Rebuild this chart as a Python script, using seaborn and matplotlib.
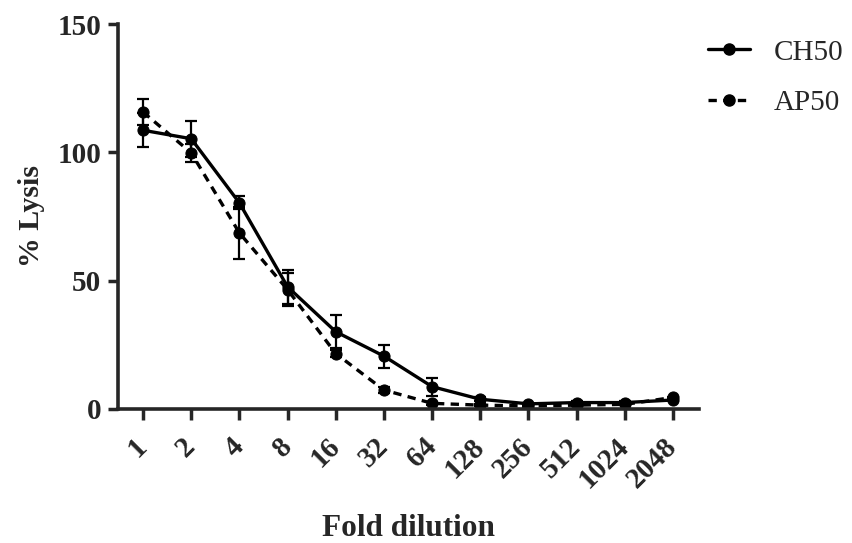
import numpy as np
import pandas as pd
import seaborn as sns
import matplotlib
matplotlib.use("Agg")
import matplotlib.pyplot as plt
from matplotlib.lines import Line2D

dilutions = ["1", "2", "4", "8", "16", "32", "64", "128", "256", "512", "1024", "2048"]
ch50 = [108.6, 105.3, 80.3, 47.6, 30.1, 20.6, 8.7, 3.8, 2.0, 2.5, 2.5, 3.5]
ch50_sd = [6.6, 7.0, 2.5, 6.7, 6.5, 4.5, 3.5, 0.8, 0.5, 0.5, 0.5, 0.5]
ap50 = [115.7, 99.8, 68.6, 46.5, 21.6, 7.4, 2.2, 1.5, 1.2, 1.5, 1.8, 4.5]
ap50_sd = [5.0, 3.6, 10.0, 6.5, 1.5, 1.0, 0.5, 0.3, 0.3, 0.3, 0.3, 0.3]

sns.set_style("ticks")
plt.rcParams['font.family'] = ['Liberation Serif', 'DejaVu Serif']

pos = np.arange(len(dilutions))
df = pd.DataFrame({
    'pos': np.concatenate([pos, pos]),
    'lysis': ch50 + ap50,
    'assay': ['CH50'] * len(pos) + ['AP50'] * len(pos),
})

dash = (2.5, 1.9)
fig = plt.figure(figsize=(8.53, 5.43), dpi=100)
ax = fig.add_axes([0.1383, 0.2468, 0.6812, 0.709])

sns.lineplot(data=df, x='pos', y='lysis', style='assay', style_order=['CH50', 'AP50'],
             dashes={'CH50': '', 'AP50': dash}, markers={'CH50': 'o', 'AP50': 'o'},
             color='black', lw=2.4, markersize=8, markeredgecolor='black',
             legend=False, ax=ax)
ax.errorbar(pos, ch50, yerr=ch50_sd, fmt='none', ecolor='black', elinewidth=1.6, capsize=4.5, capthick=1.6)
ax.errorbar(pos, ap50, yerr=ap50_sd, fmt='none', ecolor='black', elinewidth=1.6, capsize=4.5, capthick=1.6)

ax.set_xlim(-0.52, 11.54)
ax.set_ylim(0, 150)
ax.set_yticks([0, 50, 100, 150])
ax.set_xticks(pos)
ax.set_xticklabels(dilutions, rotation=45, ha='right', va='center', rotation_mode='anchor')
for lab in ax.get_xticklabels() + ax.get_yticklabels():
    lab.set_fontweight('bold')
    lab.set_fontsize(21)
ax.tick_params(axis='x', length=8, width=2.5, pad=16)
ax.tick_params(axis='y', length=7, width=2.5, pad=5)
sns.despine(ax=ax)
for s in ['left', 'bottom']:
    ax.spines[s].set_linewidth(2.6)

ax.set_xlabel('Fold dilution', fontsize=22.5, fontweight='bold', labelpad=15)
ax.set_ylabel('% Lysis', fontsize=21.5, fontweight='bold', labelpad=9)

handles = [
    Line2D([], [], color='black', lw=2.4, marker='o', markersize=8),
    Line2D([], [], color='black', lw=2.4, ls=(0, dash), marker='o', markersize=8),
]
fig.legend(handles, ['CH50', 'AP50'], loc='upper left', bbox_to_anchor=(0.7995, 0.976),
           frameon=False, fontsize=21, handlelength=1.44, labelspacing=0.82, handletextpad=0.79)

fig.savefig('out.png', dpi=100)
